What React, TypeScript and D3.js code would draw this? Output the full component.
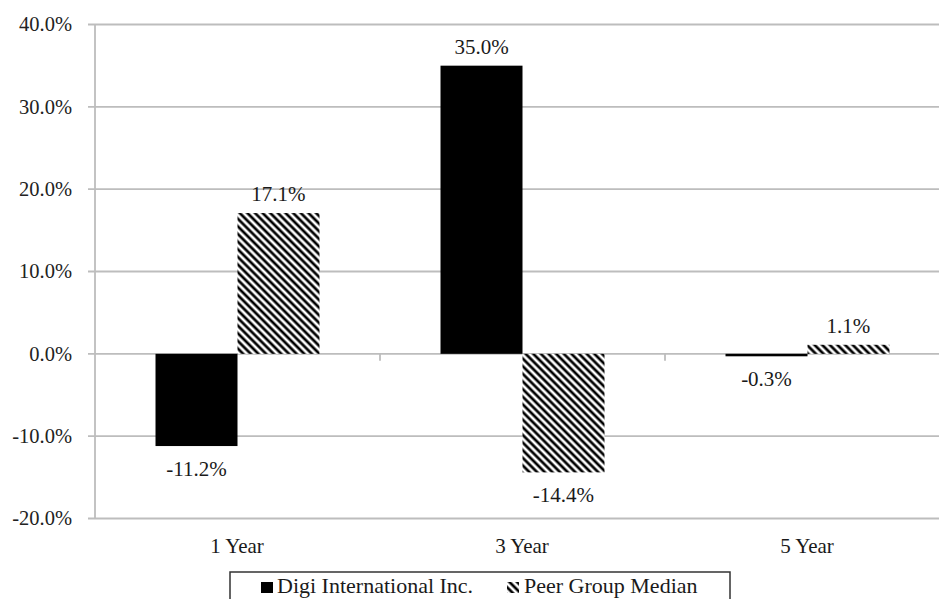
import React from "react";
import * as d3 from "d3";

const categories = ["1 Year", "3 Year", "5 Year"];
const seriesNames = ["Digi International Inc.", "Peer Group Median"];
const digiValues = [-11.2, 35.0, -0.3];
const peerValues = [17.1, -14.4, 1.1];
const yTicks = [-20, -10, 0, 10, 20, 30, 40];

const W = 939;
const H = 599;
const left = 95;
const right = 950;
const top = 24.5;
const bottom = 518.5;
const font = "Liberation Serif, Times New Roman, DejaVu Serif, serif";
const fs = 20.5;

export default function App() {
  const y = d3.scaleLinear().domain([-20, 40]).range([bottom, top]);
  const x0 = d3.scaleBand().domain(categories).range([left, right]).paddingInner(0).paddingOuter(0);
  const x1 = d3.scaleBand().domain(seriesNames).range([0, x0.bandwidth()]).paddingInner(0).paddingOuter(0.738);
  const fmt = (v: number) => v.toFixed(1) + "%";
  const series = [digiValues, peerValues];
  const fills = ["#000", "url(#hatch)"];

  return (
    <svg width={W} height={H} style={{ position: "fixed", left: 0, top: 0, background: "#fff" }}>
      <defs>
        <pattern id="hatch" patternUnits="userSpaceOnUse" width={5.4} height={10} patternTransform="rotate(-45)">
          <rect width={5.4} height={10} fill="#fff" />
          <line x1={2.7} y1={-1} x2={2.7} y2={11} stroke="#000" strokeWidth={2.7} />
        </pattern>
      </defs>
      <rect width={W} height={H} fill="#fff" />
      {yTicks.map((t) => (
        <g key={t}>
          <line x1={left - 7} x2={W} y1={y(t)} y2={y(t)} stroke="#bdbdbd" strokeWidth={1.8} />
          <text x={72} y={y(t)} dy="0.33em" textAnchor="end" fontFamily={font} fontSize={fs} fill="#222">
            {fmt(t)}
          </text>
        </g>
      ))}
      <line x1={left} x2={left} y1={top} y2={bottom} stroke="#bdbdbd" strokeWidth={1.8} />
      {categories.slice(1).map((c) => (
        <line key={c} x1={x0(c)!} x2={x0(c)!} y1={y(0)} y2={y(0) + 7} stroke="#bdbdbd" strokeWidth={1.8} />
      ))}
      {categories.map((c, i) => (
        <g key={c}>
          {series.map((vals, s) => {
            const v = vals[i];
            const bx = x0(c)! + x1(seriesNames[s])!;
            const bw = x1.bandwidth();
            const y0 = y(Math.max(0, v));
            const y1 = y(Math.min(0, v));
            return (
              <g key={s}>
                <rect x={bx} y={y0} width={bw} height={Math.max(2, y1 - y0)} fill={fills[s]} />
                <text
                  x={bx + bw / 2}
                  y={v >= 0 ? y0 - 12 : y1 + 30}
                  textAnchor="middle"
                  fontFamily={font}
                  fontSize={21}
                  fill="#1a1a1a"
                >
                  {fmt(v)}
                </text>
              </g>
            );
          })}
          <text x={x0(c)! + x0.bandwidth() / 2 - 0.5} y={553} textAnchor="middle" fontFamily={font} fontSize={21} fill="#1a1a1a">
            {c}
          </text>
        </g>
      ))}
      <rect x={230} y={572} width={500} height={40} fill="#fff" stroke="#333" strokeWidth={1.5} />
      <rect x={261} y={582} width={12} height={11} fill="#000" />
      <text x={277} y={593} fontFamily={font} fontSize={22} fill="#1a1a1a">
        {seriesNames[0]}
      </text>
      <rect x={507} y={582} width={12} height={11} fill="url(#hatch)" />
      <text x={524} y={593} fontFamily={font} fontSize={22} fill="#1a1a1a">
        {seriesNames[1]}
      </text>
    </svg>
  );
}
